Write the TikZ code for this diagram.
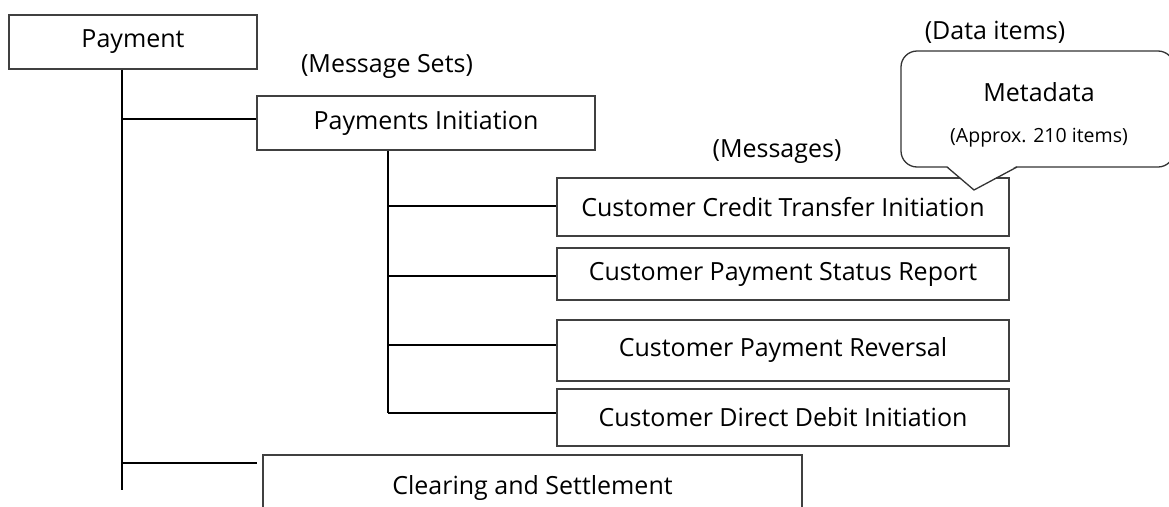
\documentclass[tikz,border=0pt]{standalone}
\usepackage{fontspec}
\setmainfont{Open Sans}
\begin{document}
\begin{tikzpicture}[x=1pt,y=-1pt,line width=1.3pt,
  box/.style={draw=black!75, minimum height=54pt, inner sep=0pt, font=\fontsize{25}{30}\selectfont},
  lbl/.style={font=\fontsize{25}{30}\selectfont}]
\path[use as bounding box, clip] (0,0) rectangle (1169,506);

\node[box, minimum width=248pt] (pay) at (133,42) {Payment};
\node[box, minimum width=338pt] (pi) at (426,123) {Payments Initiation};

\node[box, minimum width=452pt, minimum height=58pt] (m1) at (783,207) {Customer Credit Transfer Initiation};
\node[box, minimum width=452pt, minimum height=52pt] (m2) at (783,274) {Customer Payment Status Report};
\node[box, minimum width=452pt, minimum height=61pt] (m3) at (783,350.5) {Customer Payment Reversal};
\node[box, minimum width=452pt, minimum height=57pt] (m4) at (783,417.5) {Customer Direct Debit Initiation};

\node[box, minimum width=539pt, minimum height=66pt] (cs) at (532.5,488) {Clearing and Settlement};

\node[lbl] (setslbl) at (387,66) {(Message Sets)};
\node[lbl] (msglbl) at (777,152) {(Messages)};
\node[lbl] (datalbl) at (995,32) {(Data items)};

% callout
\node[draw=black!80, rounded corners=16pt, minimum width=273pt, minimum height=116pt] (meta) at (1037.5,109) {};
\node[lbl] (metattl) at (1039,92) {Metadata};
\node[font=\fontsize{19.5}{23}\selectfont] (metanote) at (1039,138) {(Approx. 210 items)};
\coordinate (tip) at (974,190);
\fill[white] (946,165) -- (tip) -- (1018,165) -- cycle;
\draw[black!80] (947,167) -- (tip) -- (1017,167);

% tree lines
\coordinate (trunk) at (122,490);
\draw (pay.south -| trunk) -- (trunk);
\draw ([yshift=4pt]trunk |- pi.west) -- ([yshift=4pt]pi.west);
\coordinate (csend) at (257,463);
\draw (trunk |- csend) -- (csend);

\coordinate (pitrunk) at (388,413);
\draw (pi.south -| pitrunk) -- ([yshift=4.5pt]pitrunk |- m4.west);
\foreach \m/\dy in {m1/1,m2/-2,m3/5.5,m4/4.5}
  \draw ([yshift=\dy pt]pitrunk |- \m.west) -- ([yshift=\dy pt]\m.west);
\end{tikzpicture}
\end{document}
